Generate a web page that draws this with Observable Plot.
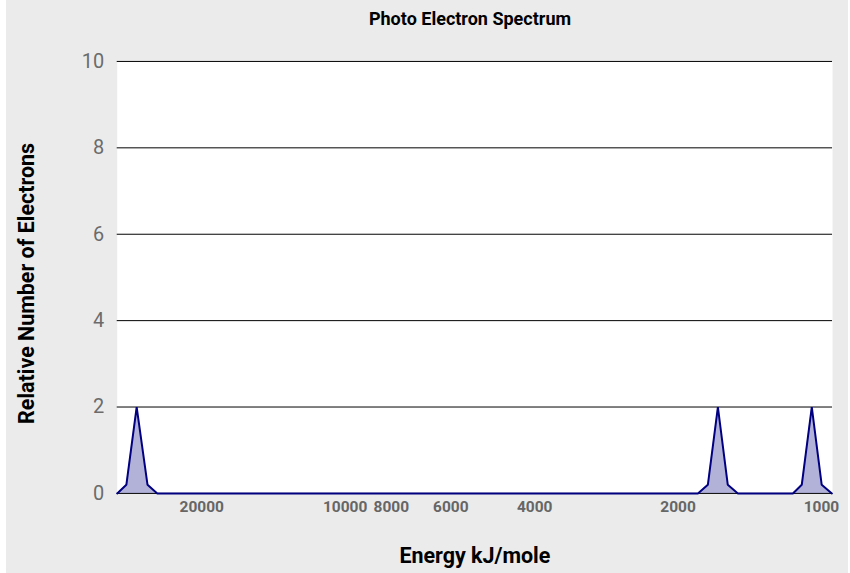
<!DOCTYPE html>
<html>
<head>
<meta charset="utf-8">
<script src="https://cdn.jsdelivr.net/npm/d3@7"></script>
<script src="https://cdn.jsdelivr.net/npm/@observablehq/plot@0.6"></script>
<style>
  html, body { margin: 0; padding: 0; background: #ffffff; }
  #wrap { position: absolute; left: 6px; top: 0; width: 842px; height: 573px; background: #ebebeb; overflow: hidden; font-family: Roboto, sans-serif; }
  #title { position: absolute; left: 0; top: 0; width: 100%; height: 38px; text-align: center; font-weight: bold; font-size: 18px; line-height: 38px; color: #000; padding-left: 86px; box-sizing: border-box; }
  #chart { position: absolute; left: -6px; top: 38px; }
</style>
</head>
<body>
<div id="wrap">
  <div id="title">Photo Electron Spectrum</div>
  <div id="chart"></div>
</div>
<script>
// Energy (kJ/mole) and relative number of electrons
const energies = [30100, 28800, 27400, 26000, 24800, 1817, 1732, 1650, 1573, 1498, 1148, 1100, 1048, 999, 951];
const counts   = [0,     0.2,   2,     0.2,   0,     0,    0.2,  2,    0.2,  0,    0,    0.2,  2,    0.2, 0];
const xTicks = [20000, 10000, 8000, 6000, 4000, 2000, 1000];
const yTicks = [0, 2, 4, 6, 8, 10];

const data = energies.map((e, i) => ({energy: e, count: counts[i]}));

const chart = Plot.plot({
  width: 850,
  height: 535,
  marginLeft: 117,
  marginRight: 16,
  marginTop: 23,
  marginBottom: 79,
  style: { background: "transparent", fontFamily: "Roboto, sans-serif", overflow: "visible" },
  x: { type: "log", domain: [30100, 948], ticks: xTicks, tickFormat: d => String(d) },
  y: { domain: [0, 10], ticks: yTicks },
  marks: [
    Plot.frame({ fill: "white", stroke: null }),
    Plot.ruleY(yTicks, { stroke: "black", strokeWidth: 1 }),
    Plot.axisY({ ticks: yTicks, tickSize: 0, tickPadding: 13, fontSize: 20, fill: "#6b6b6b", label: null }),
    Plot.axisX({ ticks: xTicks, tickFormat: d => String(d), tickSize: 0, tickPadding: 8, fontSize: 15.5, fontWeight: "bold", fill: "#666666", label: null }),
    Plot.areaY(data, { x: "energy", y: "count", fill: "rgba(0,0,128,0.3)" }),
    Plot.line(data, { x: "energy", y: "count", stroke: "#000080", strokeWidth: 2, strokeLinejoin: "miter" }),
    Plot.text(["Relative Number of Electrons"], { frameAnchor: "left", dx: -90, dy: 6, rotate: -90, textAnchor: "middle", lineAnchor: "middle", fontSize: 21.5, fontWeight: "bold", fill: "black" }),
    Plot.text(["Energy kJ/mole"], { frameAnchor: "bottom", dy: 63, textAnchor: "middle", lineAnchor: "middle", fontSize: 21.5, fontWeight: "bold", fill: "black" })
  ]
});
document.getElementById("chart").appendChild(chart);
</script>
</body>
</html>
